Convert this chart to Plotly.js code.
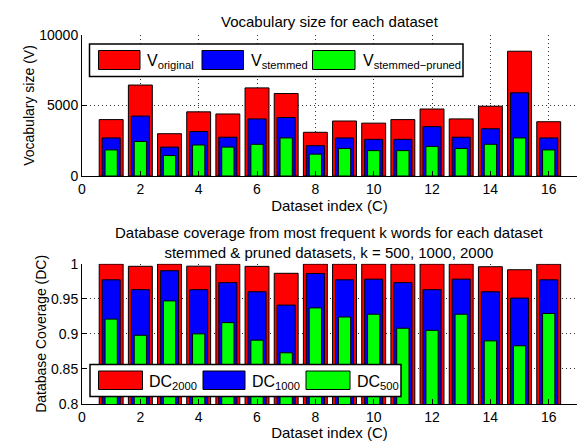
<!DOCTYPE html>
<html>
<head>
<meta charset="utf-8">
<script src="https://cdn.plot.ly/plotly-3.0.1.min.js"></script>
<style>html,body{margin:0;padding:0;background:#fff;} #chart{width:577px;height:441px;}</style>
</head>
<body>
<div id="chart"></div>
<script>
// ---- data ----
const datasetIndex = [1,2,3,4,5,6,7,8,9,10,11,12,13,14,15,16];
const vOriginal = [4000,6450,3000,4550,4400,6250,5850,3100,3900,3750,4000,4750,4050,4950,8850,3850];
const vStemmed  = [2700,4250,2050,3150,2750,4050,4150,2150,2700,2600,2600,3500,2750,3350,5900,2700];
const vPruned   = [1850,2450,1450,2200,2050,2250,2700,1550,1950,1800,1800,2100,1950,2250,2700,1850];
const dc2000 = [0.9995,0.9963,0.9995,0.9965,0.9993,0.9962,0.9863,0.9995,0.9995,0.9995,0.9995,0.9995,0.9995,0.9957,0.9914,0.9993];
const dc1000 = [0.977,0.963,0.990,0.963,0.973,0.960,0.941,0.986,0.977,0.978,0.973,0.963,0.978,0.960,0.951,0.977];
const dc500  = [0.921,0.898,0.947,0.900,0.916,0.891,0.873,0.937,0.924,0.928,0.908,0.905,0.928,0.890,0.883,0.929];
const xTickVals = [0,2,4,6,8,10,12,14,16];
const xTickText = ['0','2','4','6','8','10','12','14','16'];
const yTopTickVals = [0,5000,10000];
const yTopTickText = ['0','5000','10000'];
const yBotTickVals = [0.8,0.85,0.9,0.95,1];
const yBotTickText = ['0.8','0.85','0.9','0.95','1'];
const legendTop = ['V<sub>original</sub>','V<sub>stemmed</sub>','V<sub>stemmed\u2212pruned</sub>'];
const legendBot = ['DC<sub>2000</sub>','DC<sub>1000</sub>','DC<sub>500</sub>'];

// ---- layout helpers ----
const W = 577, H = 441, L = 82, T = 35, B = 37;
const plotW = W - L, plotH = H - T - B;
const px = x => (x - L) / plotW;
const py = y => (H - B - y) / plotH;
const FONT = '"Liberation Sans", Arial, Helvetica, sans-serif';
const RED = '#ff0000', BLUE = '#0000ff', GREEN = '#00ff00';
const GRID = {showgrid:true, gridcolor:'rgba(0,0,0,0.8)', griddash:'1px,3px', gridwidth:1};

function barTrace(y, color, width, xa, ya) {
  return {type:'bar', x: datasetIndex, y: y, width: width, xaxis: xa, yaxis: ya,
    marker:{color: color, line:{color:'#000', width:1}}, showlegend:false, hoverinfo:'skip'};
}
const data = [
  barTrace(vOriginal, RED, 0.82, 'x', 'y'),
  barTrace(vStemmed, BLUE, 0.62, 'x', 'y'),
  barTrace(vPruned, GREEN, 0.42, 'x', 'y'),
  barTrace(dc2000, RED, 0.82, 'x2', 'y2'),
  barTrace(dc1000, BLUE, 0.62, 'x2', 'y2'),
  barTrace(dc500, GREEN, 0.42, 'x2', 'y2')
];

const xCommon = Object.assign({range:[0,16.97], tickvals:xTickVals, ticktext:xTickText, ticks:'inside', ticklen:5,
  tickcolor:'#000', showline:true, linecolor:'#000', linewidth:1, mirror:false, zeroline:false,
  tickfont:{size:14, color:'#000'}, title:{text:'Dataset index (C)', font:{size:15,color:'#000'}, standoff:4}}, GRID);
const yCommon = Object.assign({ticks:'inside', ticklen:5, tickcolor:'#000', showline:true, linecolor:'#000', linewidth:1,
  zeroline:false, tickfont:{size:14, color:'#000'}}, GRID);

const topDomain = [py(176), 1];
const botDomain = [0, py(263.7)];

const shapes = [];
const annotations = [];
function rect(x0,y0,x1,y1,fill,lw){
  shapes.push({type:'rect', xref:'paper', yref:'paper', x0:px(x0), x1:px(x1), y0:py(y1), y1:py(y0),
    fillcolor:fill, line:{color:'#000', width:lw}, layer:'above'});
}
function label(x, y, text){
  annotations.push({xref:'paper', yref:'paper', x:px(x), y:py(y), xanchor:'left', yanchor:'middle',
    text:text, showarrow:false, font:{size:16, color:'#000'}});
}
// top legend
rect(89.5,44,463,76.5,'#fff',1.5);
rect(98.5,50.5,140,69.5,RED,1);
rect(202,50.5,243.5,69.5,BLUE,1);
rect(312.5,50.5,355,69.5,GREEN,1);
label(145, 62, legendTop[0]);
label(248.5, 62, legendTop[1]);
label(360.5, 62, legendTop[2]);
// bottom legend
rect(90,364.5,401,396.5,'#fff',1.5);
rect(98.5,371,142.5,389.5,RED,1);
rect(203,371,245,389.5,BLUE,1);
rect(306,371,350,389.5,GREEN,1);
label(146.5, 382, legendBot[0]);
label(250, 382, legendBot[1]);
label(355, 382, legendBot[2]);
// titles
annotations.push({xref:'paper', yref:'paper', x:px(329.5), y:py(21), xanchor:'center', yanchor:'middle',
  text:'Vocabulary size for each dataset', showarrow:false, font:{size:15,color:'#000'}});
annotations.push({xref:'paper', yref:'paper', x:px(329.5), y:py(243), xanchor:'center', yanchor:'middle',
  text:'Database coverage from most frequent k words for each dataset<br>stemmed &amp; pruned datasets, k = 500, 1000, 2000',
  showarrow:false, font:{size:15,color:'#000'}});

const layout = {
  width: W, height: H, margin:{l:L, r:0, t:T, b:B, pad:0},
  paper_bgcolor:'#fff', plot_bgcolor:'#fff', barmode:'overlay', showlegend:false,
  font:{family:FONT, size:14, color:'#000'},
  xaxis: Object.assign({}, xCommon, {anchor:'y', domain:[0,1]}),
  yaxis: Object.assign({}, yCommon, {domain:topDomain, range:[0,10000], tickvals:yTopTickVals, ticktext:yTopTickText,
    title:{text:'Vocabulary size (V)', font:{size:14,color:'#000'}, standoff:1}}),
  xaxis2: Object.assign({}, xCommon, {anchor:'y2', domain:[0,1]}),
  yaxis2: Object.assign({}, yCommon, {domain:botDomain, range:[0.8,1], tickvals:yBotTickVals, ticktext:yBotTickText,
    title:{text:'Database Coverage (DC)', font:{size:14,color:'#000'}, standoff:1}}),
  shapes: shapes, annotations: annotations
};
Plotly.newPlot('chart', data, layout, {staticPlot:true, displayModeBar:false});
</script>
</body>
</html>
